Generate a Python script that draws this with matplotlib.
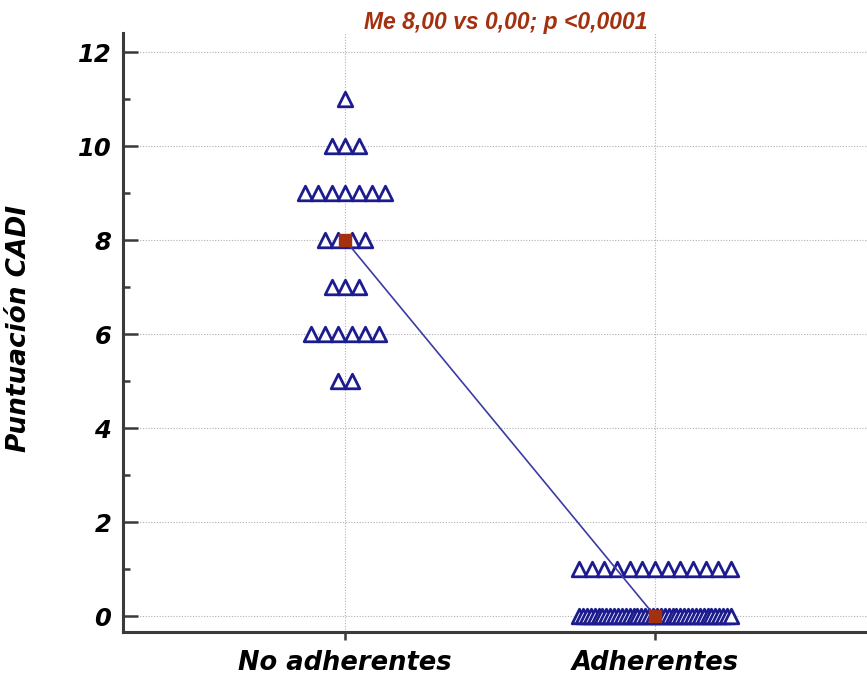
import numpy as np
import matplotlib.pyplot as plt

groups = ['No adherentes', 'Adherentes']
no_adh_values = [11, 10, 9, 8, 7, 6, 5]
no_adh_counts = [1, 3, 7, 4, 3, 6, 2]
adh_values = [1, 0]
adh_counts = [13, 40]
medians = [8.0, 0.0]
title = 'Me 8,00 vs 0,00; p <0,0001'

navy = '#1c1c8f'
brown = '#a3300f'


def dot_offsets(n, step=0.0435, max_span=0.49):
    if n > 1 and step * (n - 1) > max_span:
        step = max_span / (n - 1)
    return (np.arange(n) - (n - 1) / 2) * step


fig = plt.figure(figsize=(8.67, 6.75), dpi=100)
ax = fig.add_axes([0.142, 0.0637, 0.858, 0.887])

for gi, (vals, cnts) in enumerate([(no_adh_values, no_adh_counts), (adh_values, adh_counts)]):
    for v, c in zip(vals, cnts):
        xs = gi + dot_offsets(c)
        ax.scatter(xs, np.full(c, v), marker='^', s=10.5 ** 2, facecolor='white',
                   edgecolor=navy, linewidth=2.0, zorder=3)

ax.plot([0, 1], medians, color='#3b3ba5', lw=1.2, zorder=4)
ax.scatter([0, 1], medians, marker='s', s=8 ** 2, color=brown, zorder=5)

ax.set_xlim(-0.716, 1.684)
ax.set_ylim(-0.34, 12.4)
ax.set_xticks([0, 1])
ax.set_xticklabels(groups)
ax.set_yticks(range(0, 13, 2))
ax.set_yticks(range(1, 12, 2), minor=True)

ax.grid(True, which='major', color='#b0b0b0', linestyle=(0, (1, 1.5)), lw=0.8, zorder=0)
for s in ['top', 'right']:
    ax.spines[s].set_visible(False)
for s in ['left', 'bottom']:
    ax.spines[s].set_color('#3a3a3a')
    ax.spines[s].set_linewidth(2.2)

ax.tick_params(axis='y', which='major', direction='in', length=11, width=1.8, color='#3a3a3a', pad=8.5)
ax.tick_params(axis='y', which='minor', direction='in', length=5, width=1.8, color='#3a3a3a')
ax.tick_params(axis='x', direction='out', length=6, width=1.8, color='#3a3a3a', pad=7)

lab_font = dict(family='DejaVu Sans', weight='bold', style='italic', size=17.5)
for t in ax.get_yticklabels():
    t.set_fontproperties(lab_font)
    t.set_fontsize(17.5)
for t in ax.get_xticklabels():
    t.set_fontproperties(lab_font)
    t.set_fontsize(18.5)

ax.set_ylabel('Puntuación CADI', fontdict=dict(lab_font, size=19))
ax.yaxis.set_label_coords(-0.122, 0.507)

fig.text(506 / 867, 1 - 22 / 675, title, ha='center', va='center', color=brown,
         family='Liberation Sans', weight='bold', style='italic', size=16.5)

fig.savefig('out.png', dpi=100)
